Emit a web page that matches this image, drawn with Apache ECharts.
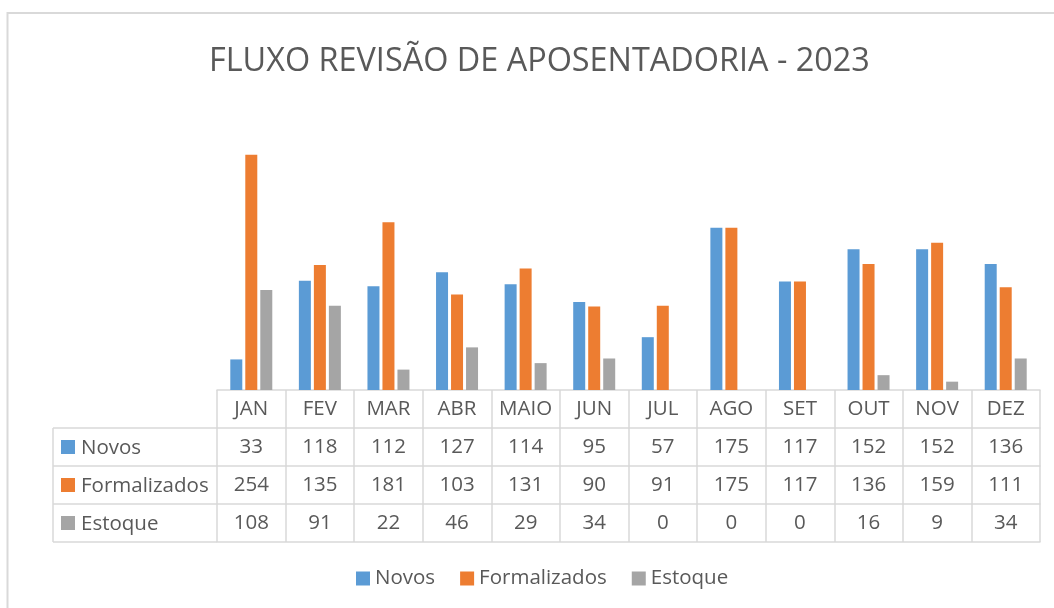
<!DOCTYPE html>
<html>
<head>
<meta charset="utf-8">
<script src="https://cdn.jsdelivr.net/npm/echarts@6/dist/echarts.min.js"></script>
<style>html,body{margin:0;padding:0;background:#fff;}#c{width:1054px;height:608px;}</style>
</head>
<body>
<div id="c"></div>
<script>
const titleText = 'FLUXO REVISÃO DE APOSENTADORIA - 2023';
const months = ['JAN','FEV','MAR','ABR','MAIO','JUN','JUL','AGO','SET','OUT','NOV','DEZ'];
const seriesNames = ['Novos','Formalizados','Estoque'];
const novos = [33,118,112,127,114,95,57,175,117,152,152,136];
const formalizados = [254,135,181,103,131,90,91,175,117,136,159,111];
const estoque = [108,91,22,46,29,34,0,0,0,16,9,34];
const colors = ['#5B9BD5','#ED7D31','#A5A5A5'];

const seriesData = [novos, formalizados, estoque];
const FONT = '"Open Sans", "Noto Sans", sans-serif';
const TXT = '#595959';
const LINE = '#D9D9D9';
const FS = 20.5;
const gridLeft = 217, gridRight = 14, gridBottom = 218, rowH = 38;

const chart = echarts.init(document.getElementById('c'));

const xAxes = [{
  type: 'category', data: months, position: 'bottom', gridIndex: 0,
  axisLine: {show: true, lineStyle: {color: LINE, width: 1.5}},
  axisTick: {show: true, interval: 0, length: rowH * 4, lineStyle: {color: LINE, width: 1.5}},
  axisLabel: {interval: 0, color: TXT, fontSize: FS, fontFamily: FONT, margin: 9}
}];
seriesData.forEach((arr, i) => {
  xAxes.push({
    type: 'category', data: arr.map(String), position: 'bottom', offset: rowH * (i + 1),
    axisLine: {show: true, lineStyle: {color: LINE, width: 1.5}},
    axisTick: {show: false},
    axisLabel: {interval: 0, color: TXT, fontSize: FS, fontFamily: FONT, margin: 9}
  });
});
xAxes.push({
  type: 'category', data: months, position: 'bottom', offset: rowH * 4,
  axisLine: {show: true, lineStyle: {color: LINE, width: 1.5}},
  axisTick: {show: false}, axisLabel: {show: false}
});

const tableTop = 608 - gridBottom;
const graphics = [
  {type: 'rect', shape: {x: 7.5, y: 13, width: 1100, height: 700}, style: {fill: null, stroke: LINE, lineWidth: 2}, silent: true},
  {type: 'line', shape: {x1: 53, y1: tableTop + rowH, x2: 53, y2: tableTop + rowH * 4}, style: {stroke: LINE, lineWidth: 1.5}}
];
for (let r = 1; r <= 4; r++) {
  graphics.push({type: 'line', shape: {x1: 53, y1: tableTop + rowH * r, x2: gridLeft, y2: tableTop + rowH * r}, style: {stroke: LINE, lineWidth: 1.5}});
}
seriesNames.forEach((n, i) => {
  const cy = tableTop + rowH * (i + 1) + rowH / 2;
  graphics.push({type: 'rect', shape: {x: 61, y: cy - 7, width: 14, height: 14}, style: {fill: colors[i]}});
  graphics.push({type: 'text', x: 81, y: cy + 1, style: {text: n, fill: TXT, font: FS + 'px ' + FONT, textVerticalAlign: 'middle', verticalAlign: 'middle'}});
});

chart.setOption({
  animation: false,
  color: colors,
  title: {
    text: titleText, left: 204, top: 41,
    textStyle: {color: TXT, fontSize: 32.4, fontWeight: 'normal', fontFamily: FONT}
  },
  legend: {
    data: seriesNames, left: 356, top: 568, padding: 0, itemWidth: 14, itemHeight: 14, itemGap: 25,
    icon: 'rect', textStyle: {color: TXT, fontSize: FS, fontFamily: FONT}
  },
  grid: {left: gridLeft, right: gridRight, top: 112, bottom: gridBottom, containLabel: false},
  xAxis: xAxes,
  yAxis: {type: 'value', min: 0, max: 300, show: false},
  series: seriesNames.map((n, i) => ({
    name: n, type: 'bar', data: seriesData[i], xAxisIndex: 0,
    barWidth: 12, barGap: '25%', itemStyle: {color: colors[i]}
  })),
  graphic: graphics
});
</script>
</body>
</html>
